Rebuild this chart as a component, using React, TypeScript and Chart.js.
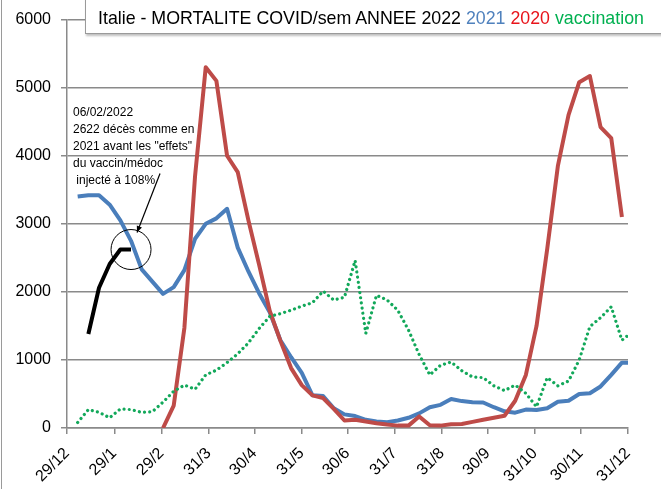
import React, { useEffect, useRef } from "react";
import { Chart, registerables } from "chart.js";

Chart.register(...registerables);

const YEAR_END = 368;
const tickDays = [0, 31, 62, 93, 123, 154, 184, 215, 246, 276, 307, 337, 368];
const tickLabels = ["29/12", "29/1", "29/2", "31/3", "30/4", "31/5", "30/6", "31/7", "31/8", "30/9", "31/10", "30/11", "31/12"];

// week index of first value for each series
const start2022 = 2;
const deaths2022 = [1380, 2060, 2410, 2622, 2622];

const start2021 = 1;
const deaths2021 = [
  3400, 3420, 3420, 3280, 3050, 2750, 2330, 2150, 1970, 2070,
  2320, 2780, 3000, 3080, 3220, 2650, 2300, 1980, 1700, 1290,
  1040, 810, 480, 470, 290, 200, 175, 120, 95, 85,
  110, 150, 215, 305, 340, 425, 395, 380, 375, 305,
  245, 225, 270, 265, 290, 385, 400, 500, 510, 610,
  780, 960, 960,
];

const start2020 = 9;
const deaths2020 = [
  0, 330, 1470, 3700, 5300, 5100, 4000, 3760, 3050, 2400,
  1720, 1280, 880, 630, 480, 440, 280, 110, 120, 95,
  70, 50, 35, 35, 170, 40, 35, 55, 60, 90,
  120, 150, 180, 400, 780, 1500, 2630, 3850, 4600, 5080,
  5170, 4420, 4260, 3100,
];

const startVacc = 1;
const vaccination = [
  80, 270, 230, 150, 280, 270, 230, 240, 380, 540,
  630, 570, 780, 850, 960, 1090, 1250, 1460, 1640, 1680,
  1730, 1790, 1840, 2010, 1880, 1920, 2460, 1390, 1950, 1880,
  1730, 1440, 1080, 780, 920, 970, 840, 750, 740, 620,
  550, 630, 510, 310, 740, 620, 690, 1000, 1490, 1620,
  1780, 1290, 1360,
];

const annotationLines = ["06/02/2022", "2622 décès comme en", "2021 avant les \"effets\"", "du vaccin/médoc", " injecté à 108%"];

const toPoints = (startWeek: number, values: number[]) =>
  values.map((v, i) => ({ x: Math.min(7 * (startWeek + i), YEAR_END), y: v }));

const FONT = "'Liberation Sans', Arial, sans-serif";
const GRID = "#8a8a8a";

export default function App() {
  const ref = useRef<HTMLCanvasElement | null>(null);

  useEffect(() => {
    const canvas = ref.current;
    if (!canvas) return;

    const circlePlugin = {
      id: "circleNote",
      afterDatasetsDraw(chart: any) {
        const { ctx, scales } = chart;
        const cx = scales.x.getPixelForValue(7 * (start2022 + deaths2022.length - 1));
        const cy = scales.y.getPixelForValue(deaths2022[deaths2022.length - 1]);
        ctx.save();
        ctx.strokeStyle = "#000";
        ctx.lineWidth = 1;
        ctx.beginPath();
        ctx.arc(cx, cy, 20, 0, Math.PI * 2);
        ctx.stroke();
        // arrow
        const tx = cx + 29, ty = cy - 76;
        const hx = cx + 6, hy = cy - 17;
        ctx.lineWidth = 1.2;
        ctx.beginPath();
        ctx.moveTo(tx, ty);
        ctx.lineTo(hx, hy);
        ctx.stroke();
        const ang = Math.atan2(hy - ty, hx - tx);
        const L = 7;
        ctx.beginPath();
        ctx.moveTo(hx, hy);
        ctx.lineTo(hx - L * Math.cos(ang - 0.4), hy - L * Math.sin(ang - 0.4));
        ctx.lineTo(hx - L * Math.cos(ang + 0.4), hy - L * Math.sin(ang + 0.4));
        ctx.closePath();
        ctx.fillStyle = "#000";
        ctx.fill();
        ctx.restore();
      },
    };

    const chart = new Chart(canvas, {
      type: "line",
      data: {
        datasets: [
          {
            label: "vaccination",
            data: toPoints(startVacc, vaccination),
            borderColor: "#12a85a",
            borderWidth: 3.2,
            borderDash: [0.01, 5.2],
            borderCapStyle: "round",
            pointRadius: 0,
            tension: 0,
            order: 0,
          },
          {
            label: "2020",
            data: toPoints(start2020, deaths2020),
            borderColor: "#BE4B48",
            borderWidth: 4,
            pointRadius: 0,
            tension: 0,
            borderJoinStyle: "round",
            order: 1,
          },
          {
            label: "2021",
            data: toPoints(start2021, deaths2021),
            borderColor: "#4A7EBB",
            borderWidth: 4,
            pointRadius: 0,
            tension: 0,
            borderJoinStyle: "round",
            order: 2,
          },
          {
            label: "2022",
            data: toPoints(start2022, deaths2022),
            borderColor: "#000000",
            borderWidth: 4,
            pointRadius: 0,
            tension: 0,
            borderJoinStyle: "round",
            order: 3,
          },
        ],
      },
      options: {
        animation: false,
        responsive: false,
        devicePixelRatio: 1,
        layout: { padding: { top: 18, right: 33, left: 0, bottom: 0 } },
        plugins: { legend: { display: false }, tooltip: { enabled: false }, title: { display: false } },
        scales: {
          x: {
            type: "linear",
            min: 0,
            max: YEAR_END,
            afterBuildTicks: (scale: any) => {
              scale.ticks = tickDays.map((v) => ({ value: v }));
            },
            afterFit: (scale: any) => {
              scale.height = 61;
            },
            ticks: {
              autoSkip: false,
              minRotation: 45,
              maxRotation: 45,
              padding: 10,
              color: "#000",
              font: { family: FONT, size: 16 },
              callback: (value: any) => {
                const i = tickDays.indexOf(Number(value));
                return i >= 0 ? tickLabels[i] : "";
              },
            },
            grid: { drawOnChartArea: false, drawTicks: true, tickLength: 6, color: GRID, lineWidth: 1.5 },
            border: { display: true, color: GRID, width: 1.5 },
          },
          y: {
            min: 0,
            max: 6000,
            afterFit: (scale: any) => {
              scale.width = 67;
            },
            ticks: {
              stepSize: 1000,
              padding: 10,
              color: "#000",
              font: { family: FONT, size: 16 },
              callback: (value: any) => String(value),
            },
            grid: { color: GRID, lineWidth: 1.5, tickLength: 6 },
            border: { display: true, color: GRID, width: 1.5 },
          },
        },
      },
      plugins: [circlePlugin],
    } as any);

    return () => chart.destroy();
  }, []);

  return (
    <div style={{ position: "fixed", left: 0, top: 0, width: 661, height: 489, background: "#fff", overflow: "hidden" }}>
      <canvas ref={ref} width={661} height={489} style={{ width: 661, height: 489, display: "block" }} />
      <div style={{ position: "absolute", left: 1, top: 0, width: 1, height: 489, background: "#9a9a9a" }} />
      <div
        style={{
          position: "absolute",
          left: 85,
          top: -2,
          width: 600,
          height: 34,
          background: "#fff",
          border: "1px solid #9a9a9a",
          boxShadow: "1px 2px 2px rgba(0,0,0,0.25)",
        }}
      />
      <div
        style={{
          position: "absolute",
          left: 98,
          top: 8,
          whiteSpace: "pre",
          fontFamily: FONT,
          fontSize: 17.8,
          lineHeight: "20px",
          color: "#000",
        }}
      >
        <span>Italie - MORTALITE COVID/sem ANNEE 2022 </span>
        <span style={{ color: "#4F81BD" }}>2021</span>
        <span> </span>
        <span style={{ color: "#E8141B" }}>2020</span>
        <span> </span>
        <span style={{ color: "#00B050" }}>vaccination</span>
      </div>
      <div
        style={{
          position: "absolute",
          left: 73,
          top: 104,
          whiteSpace: "pre",
          fontFamily: FONT,
          fontSize: 12,
          lineHeight: "17px",
          color: "#000",
        }}
      >
        {annotationLines.join("\n")}
      </div>
    </div>
  );
}
